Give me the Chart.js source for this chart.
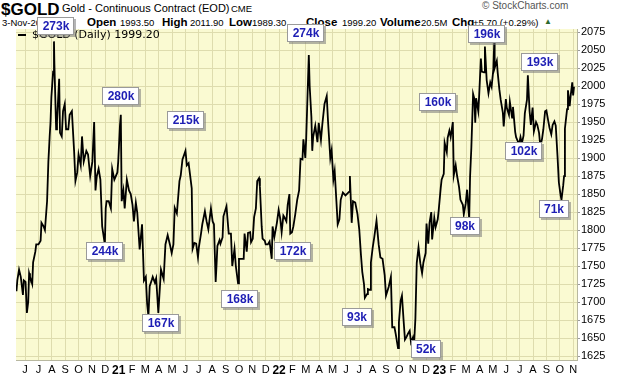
<!DOCTYPE html>
<html><head><meta charset="utf-8">
<script src="https://cdn.jsdelivr.net/npm/chart.js@4/dist/chart.umd.min.js"></script>
<style>
html,body{margin:0;padding:0;background:#fff;}
#wrap{position:relative;width:620px;height:376px;overflow:hidden;font-family:Arial,"Liberation Sans",sans-serif;}
#wrap span{position:absolute;white-space:nowrap;color:#000;line-height:1;}
.b{font-weight:bold;font-size:11.5px;top:17px;}
.n{font-size:9.5px;top:18px;}
canvas{position:absolute;left:0;top:0;}
</style></head><body>
<div id="wrap">
<span style="left:1px;top:1px;font-size:17px;font-weight:bold;">$GOLD</span>
<span style="left:62px;top:3px;font-size:11px;">Gold - Continuous Contract (EOD)</span>
<span style="left:231px;top:4px;font-size:9.5px;">CME</span>
<span style="left:482px;top:1px;font-size:10px;color:#555;">&copy; StockCharts.com</span>
<span class="n" style="left:2px;">3-Nov-2023</span>
<span class="b" style="left:87px;">Open</span>
<span class="n" style="left:120px;">1993.50</span>
<span class="b" style="left:162px;">High</span>
<span class="n" style="left:190px;">2011.90</span>
<span class="b" style="left:229px;">Low</span>
<span class="n" style="left:252px;">1989.30</span>
<span class="b" style="left:306px;">Close</span>
<span class="n" style="left:342px;">1999.20</span>
<span class="b" style="left:380px;">Volume</span>
<span class="n" style="left:421px;">20.5M</span>
<span class="b" style="left:452px;">Chg</span>
<span class="n" style="left:473px;">+5.70 (+0.29%)</span>
<span style="left:544px;top:18px;font-size:8px;color:#2d6b2d;">&#9650;</span>
<canvas id="c" width="620" height="376"></canvas>
</div>
<script>
// ---- data ----
const dates = [
"2020-05-12","2020-05-14","2020-05-18","2020-05-22","2020-05-27","2020-05-29","2020-06-02","2020-06-05","2020-06-08","2020-06-10","2020-06-12","2020-06-17","2020-06-19","2020-06-24","2020-06-26",
"2020-07-01","2020-07-06","2020-07-08","2020-07-13","2020-07-16","2020-07-21","2020-07-24","2020-07-27","2020-07-29","2020-07-31",
"2020-08-04","2020-08-06","2020-08-07","2020-08-11","2020-08-13","2020-08-18","2020-08-20","2020-08-24","2020-08-27","2020-08-31",
"2020-09-03","2020-09-08","2020-09-11","2020-09-16","2020-09-21","2020-09-24","2020-09-28","2020-10-01","2020-10-06","2020-10-09","2020-10-13","2020-10-19","2020-10-23","2020-10-28",
"2020-11-02","2020-11-06","2020-11-09","2020-11-12","2020-11-16","2020-11-20","2020-11-24","2020-11-30","2020-12-02","2020-12-04","2020-12-09","2020-12-14","2020-12-17","2020-12-22","2020-12-29","2020-12-31",
"2021-01-04","2021-01-06","2021-01-08","2021-01-12","2021-01-15","2021-01-20","2021-01-25","2021-01-29","2021-02-02","2021-02-05","2021-02-09","2021-02-12","2021-02-17","2021-02-22","2021-02-26",
"2021-03-02","2021-03-05","2021-03-08","2021-03-11","2021-03-16","2021-03-18","2021-03-23","2021-03-26","2021-03-31","2021-04-06","2021-04-12","2021-04-16","2021-04-21","2021-04-26","2021-04-30",
"2021-05-04","2021-05-07","2021-05-12","2021-05-18","2021-05-21","2021-05-25","2021-05-28","2021-06-01","2021-06-04","2021-06-08","2021-06-11","2021-06-15","2021-06-17","2021-06-21","2021-06-25","2021-06-29",
"2021-07-01","2021-07-06","2021-07-09","2021-07-15","2021-07-19","2021-07-23","2021-07-29","2021-08-02","2021-08-05","2021-08-09","2021-08-11","2021-08-13","2021-08-18","2021-08-20","2021-08-25","2021-08-27",
"2021-09-03","2021-09-08","2021-09-13","2021-09-16","2021-09-21","2021-09-24","2021-09-29","2021-10-01","2021-10-06","2021-10-12","2021-10-14","2021-10-19","2021-10-22","2021-10-27","2021-10-29",
"2021-11-02","2021-11-05","2021-11-09","2021-11-12","2021-11-16","2021-11-18","2021-11-22","2021-11-24","2021-11-29","2021-12-01","2021-12-06","2021-12-10","2021-12-15","2021-12-17","2021-12-21","2021-12-27","2021-12-31",
"2022-01-04","2022-01-07","2022-01-11","2022-01-14","2022-01-18","2022-01-21","2022-01-25","2022-01-27","2022-01-31","2022-02-03","2022-02-07","2022-02-11","2022-02-15","2022-02-18","2022-02-22","2022-02-24","2022-02-28",
"2022-03-02","2022-03-04","2022-03-08","2022-03-10","2022-03-14","2022-03-16","2022-03-18","2022-03-23","2022-03-28","2022-03-31","2022-04-05","2022-04-08","2022-04-13","2022-04-18","2022-04-21","2022-04-26","2022-04-29",
"2022-05-03","2022-05-06","2022-05-10","2022-05-13","2022-05-17","2022-05-20","2022-05-25","2022-05-31","2022-06-03","2022-06-08","2022-06-10","2022-06-14","2022-06-17","2022-06-22","2022-06-27",
"2022-07-01","2022-07-05","2022-07-08","2022-07-12","2022-07-14","2022-07-19","2022-07-21","2022-07-26","2022-07-28","2022-08-01","2022-08-05","2022-08-10","2022-08-15","2022-08-19","2022-08-24","2022-08-29",
"2022-09-01","2022-09-07","2022-09-12","2022-09-15","2022-09-20","2022-09-23","2022-09-28","2022-09-30","2022-10-04","2022-10-07","2022-10-11","2022-10-14","2022-10-18","2022-10-21","2022-10-25","2022-10-28",
"2022-11-01","2022-11-03","2022-11-07","2022-11-10","2022-11-14","2022-11-18","2022-11-22","2022-11-25","2022-11-30","2022-12-02","2022-12-06","2022-12-09","2022-12-13","2022-12-15","2022-12-20","2022-12-23","2022-12-28","2022-12-30",
"2023-01-04","2023-01-06","2023-01-11","2023-01-13","2023-01-18","2023-01-20","2023-01-24","2023-01-27","2023-02-01","2023-02-03","2023-02-07","2023-02-10","2023-02-14","2023-02-17","2023-02-22","2023-02-24","2023-02-28",
"2023-03-03","2023-03-08","2023-03-10","2023-03-13","2023-03-17","2023-03-20","2023-03-22","2023-03-24","2023-03-29","2023-03-31","2023-04-04","2023-04-06","2023-04-11","2023-04-13","2023-04-17","2023-04-21","2023-04-25","2023-04-28",
"2023-05-02","2023-05-04","2023-05-05","2023-05-10","2023-05-12","2023-05-16","2023-05-19","2023-05-24","2023-05-26","2023-05-31","2023-06-02","2023-06-07","2023-06-09","2023-06-14","2023-06-16","2023-06-21","2023-06-23","2023-06-27","2023-06-29",
"2023-07-03","2023-07-06","2023-07-10","2023-07-13","2023-07-18","2023-07-20","2023-07-24","2023-07-27","2023-07-31","2023-08-03","2023-08-08","2023-08-11","2023-08-15","2023-08-18","2023-08-22","2023-08-25","2023-08-29",
"2023-09-01","2023-09-05","2023-09-08","2023-09-12","2023-09-15","2023-09-19","2023-09-22","2023-09-26","2023-09-29","2023-10-03","2023-10-05","2023-10-09","2023-10-11","2023-10-13","2023-10-18","2023-10-20","2023-10-24","2023-10-26","2023-10-30","2023-11-01","2023-11-03"
];
const closes = [
1715,1730,1745,1735,1710,1730,1728,1685,1700,1740,1735,1725,1755,1770,1780,
1780,1785,1810,1805,1800,1840,1895,1930,1950,1985,
2020,2062,2030,1940,1950,2010,1935,1930,1965,1975,
1940,1940,1960,1965,1910,1868,1880,1905,1890,1930,1895,1910,1905,1875,
1895,1950,1855,1875,1885,1870,1805,1780,1830,1840,1840,1830,1885,1870,1880,1895,
1945,1960,1840,1855,1830,1870,1855,1850,1835,1812,1838,1824,1773,1808,1730,
1735,1698,1680,1722,1731,1735,1727,1733,1685,1745,1732,1780,1793,1780,1768,
1780,1831,1823,1868,1876,1898,1903,1910,1890,1893,1878,1858,1774,1782,1781,1762,
1776,1795,1808,1826,1812,1801,1830,1812,1808,1728,1752,1778,1786,1781,1790,1819,
1833,1795,1795,1750,1774,1750,1726,1760,1760,1760,1795,1770,1796,1797,1783,
1788,1818,1830,1868,1872,1860,1805,1788,1785,1780,1780,1784,1760,1805,1790,1810,1828,
1815,1797,1820,1817,1812,1835,1850,1795,1797,1805,1822,1842,1855,1899,1898,1926,1900,
1928,1967,2043,2000,1957,1910,1929,1945,1922,1949,1925,1946,1975,1986,1950,1900,1911,
1870,1882,1840,1808,1815,1842,1852,1848,1850,1853,1875,1810,1840,1838,1822,
1801,1765,1742,1725,1706,1711,1718,1717,1755,1775,1791,1813,1780,1762,1760,1737,
1709,1721,1735,1665,1665,1655,1636,1672,1702,1709,1673,1648,1652,1656,1660,1644,
1650,1630,1677,1754,1776,1754,1740,1755,1768,1809,1781,1810,1825,1787,1817,1804,1815,1826,
1859,1870,1878,1921,1908,1928,1938,1929,1950,1876,1890,1875,1860,1842,1835,1822,1837,
1856,1815,1874,1915,1989,1982,1949,1983,1965,1986,2038,2020,2019,2055,2008,1990,2005,1999,
2023,2060,2025,2035,2019,1995,1981,1963,1944,1982,1970,1960,1978,1956,1971,1936,1929,1923,1918,
1929,1920,1931,1962,1981,2015,1965,1946,1970,1937,1950,1946,1935,1916,1927,1940,1965,
1966,1952,1942,1933,1946,1951,1945,1902,1866,1848,1842,1862,1875,1941,1968,1994,1972,1985,2005,1987,1999
];
const yTicks = [1625,1650,1675,1700,1725,1750,1775,1800,1825,1850,1875,1900,1925,1950,1975,2000,2025,2050,2075];
const monthLetters = ["J","F","M","A","M","J","J","A","S","O","N","D"];
const volLabels = ["273k","280k","215k","244k","167k","168k","172k","274k","93k","52k","160k","98k","196k","193k","102k","71k"];
const volDates  = ["2020-08-10","2021-01-06","2021-06-02","2020-11-30","2021-04-06","2021-10-03","2022-02-02","2022-03-01","2022-06-26","2022-12-01","2022-12-28","2023-02-26","2023-04-17","2023-08-17","2023-07-10","2023-09-18"];
const volPrices = [2083,1986,1953,1771,1671,1704,1771,2074,1679,1635,1978,1806,2072,2033,1910,1829];
const lastClose = "1999.20";

// month offset from 1 Jun 2020
function toMonth(s){
  const p = s.split("-").map(Number);
  const dim = new Date(p[0], p[1], 0).getDate();
  return (p[0]-2020)*12 + (p[1]-6) + (p[2]-1)/dim;
}
const points = dates.map((d,i)=>({x:toMonth(d), y:closes[i]}));
const monthTicks = []; for(let m=0;m<=41;m++) monthTicks.push(m);

const bgPlugin = {
  id:"bg",
  beforeDraw(chart){
    const a = chart.chartArea, ctx = chart.ctx;
    ctx.save(); ctx.fillStyle = "#fafad2"; ctx.fillRect(a.left,a.top,a.right-a.left,a.bottom-a.top); ctx.restore();
  }
};
const annPlugin = {
  id:"ann",
  afterDatasetsDraw(chart){
    const ctx = chart.ctx, xs = chart.scales.x, ys = chart.scales.y, a = chart.chartArea;
    ctx.save();
    ctx.strokeStyle = "#000"; ctx.lineWidth = 2;
    ctx.beginPath(); ctx.moveTo(a.left+2, a.top+6); ctx.lineTo(a.left+10, a.top+6); ctx.stroke();
    ctx.fillStyle = "#000"; ctx.font = "11px 'DejaVu Sans'"; ctx.textBaseline = "middle"; ctx.textAlign = "left";
    ctx.fillText("$GOLD (Daily) " + lastClose, a.left+16, a.top+6);
    ctx.font = "bold 12px Arial, 'Liberation Sans'";
    ctx.textAlign = "center";
    volLabels.forEach((t,i)=>{
      const cx = Math.round(xs.getPixelForValue(toMonth(volDates[i])));
      const cy = Math.round(ys.getPixelForValue(volPrices[i]));
      const w = Math.round(ctx.measureText(t).width) + 10, h = 18;
      const x0 = cx - Math.round(w/2), y0 = cy - 9;
      ctx.fillStyle = "rgba(120,120,120,0.55)";
      ctx.fillRect(x0+2, y0+2, w, h);
      ctx.fillStyle = "#fff"; ctx.fillRect(x0, y0, w, h);
      ctx.strokeStyle = "#9a9a9a"; ctx.lineWidth = 1; ctx.strokeRect(x0+0.5, y0+0.5, w-1, h-1);
      ctx.fillStyle = "#1e1eb4"; ctx.fillText(t, cx, cy+1);
    });
    ctx.restore();
  }
};

new Chart(document.getElementById("c"), {
  type:"line",
  data:{datasets:[{data:points, borderColor:"#000", borderWidth:1.8, pointRadius:0, tension:0, fill:false}]},
  options:{
    responsive:false, animation:false, devicePixelRatio:1,
    layout:{padding:{left:16, top:29, right:0, bottom:0}},
    plugins:{legend:{display:false}, tooltip:{enabled:false}},
    scales:{
      x:{type:"linear", min:-0.68, max:41.29,
        afterBuildTicks(ax){ ax.ticks = monthTicks.map(v=>({value:v})); },
        afterFit(ax){ ax.height = 16; },
        grid:{color:"#dedcae", lineWidth:1, drawTicks:false},
        border:{display:true, color:"#b8b8a0"},
        ticks:{autoSkip:false, maxRotation:0, padding:3, color:"#000",
          font:(c)=>{ const v=c.tick?c.tick.value:0; return (((v%12)+12+5)%12===0) ? {family:"Arial, 'Liberation Sans'", size:12, weight:"bold"} : {family:"Arial, 'Liberation Sans'", size:11}; },
          callback:(v)=>{ const mi = ((v+5)%12+12)%12; if(mi===0){ return String(20 + Math.floor((v+5)/12)).slice(-2); } return monthLetters[mi]; }
        }
      },
      y:{type:"linear", position:"right", min:1619.5, max:2079.2,
        afterBuildTicks(ax){ ax.ticks = yTicks.map(v=>({value:v})); },
        afterFit(ax){ ax.width = 43; },
        grid:{color:"#dedcae", lineWidth:1, tickLength:3, tickColor:"#999"},
        border:{display:true, color:"#b8b8a0"},
        ticks:{padding:1, color:"#000", font:{family:"Arial, 'Liberation Sans'", size:11}, callback:(v)=>String(v)}
      }
    }
  },
  plugins:[bgPlugin, annPlugin]
});
</script>
</body></html>
